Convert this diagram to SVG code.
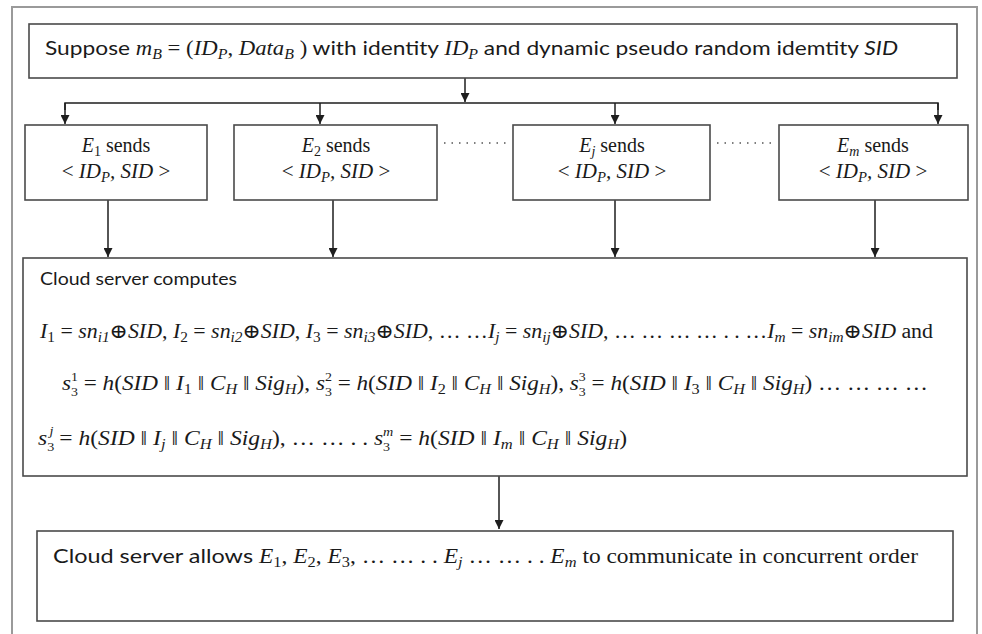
<svg xmlns="http://www.w3.org/2000/svg" width="982" height="634" viewBox="0 0 982 634">
  <style>
    .frame { fill: none; stroke: #9a9a9a; stroke-width: 2; }
    .box { fill: #ffffff; stroke: #4a4a4a; stroke-width: 1.6; }
    .wire { fill: none; stroke: #1e1e1e; stroke-width: 1.5; }
    .dots { fill: none; stroke: #555; stroke-width: 1.6; stroke-dasharray: 1.5 6; }
    .sans { font-family: "Lato", "Open Sans", "Liberation Sans", sans-serif; fill: #1a1a1a; }
    .serif { font-family: "Liberation Serif", "DejaVu Serif", serif; fill: #1a1a1a; }
    .it { font-style: italic; }
    .sb { font-size: 70%; }
    .ss { font-size: 60%; }
  </style>
  <defs>
    <marker id="arrow" viewBox="0 0 10 10" refX="10" refY="5" markerWidth="9" markerHeight="9" markerUnits="userSpaceOnUse" orient="auto">
      <path d="M0,0 L10,5 L0,10 z" fill="#1e1e1e"/>
    </marker>
  </defs>

  <rect width="982" height="634" fill="#ffffff"/>
  <rect class="frame" x="12" y="7" width="965" height="650"/>

  <!-- connectors -->
  <g id="connectors">
    <line class="wire" x1="465" y1="78" x2="465" y2="102" marker-end="url(#arrow)"/>
    <polyline class="wire" points="65,110 65,103 938,103 938,110"/>
    <line class="wire" x1="65" y1="103" x2="65" y2="124" marker-end="url(#arrow)"/>
    <line class="wire" x1="320" y1="103" x2="320" y2="124" marker-end="url(#arrow)"/>
    <line class="wire" x1="615" y1="103" x2="615" y2="124" marker-end="url(#arrow)"/>
    <line class="wire" x1="938" y1="103" x2="938" y2="124" marker-end="url(#arrow)"/>
    <line class="wire" x1="108" y1="200" x2="108" y2="257" marker-end="url(#arrow)"/>
    <line class="wire" x1="333" y1="200" x2="333" y2="257" marker-end="url(#arrow)"/>
    <line class="wire" x1="615" y1="200" x2="615" y2="257" marker-end="url(#arrow)"/>
    <line class="wire" x1="875" y1="200" x2="875" y2="257" marker-end="url(#arrow)"/>
    <line class="wire" x1="499" y1="476" x2="499" y2="529" marker-end="url(#arrow)"/>
    <line class="dots" x1="444" y1="143" x2="510" y2="143"/>
    <line class="dots" x1="717" y1="143" x2="777" y2="143"/>
  </g>

  <!-- premise -->
  <g id="premise">
    <rect class="box" x="29" y="24" width="928" height="54"/>
    <text x="45" y="55" font-size="20" textLength="853" lengthAdjust="spacingAndGlyphs"><tspan class="sans">Suppose </tspan><tspan class="serif it">m</tspan><tspan class="serif it sb" dy="4">B</tspan><tspan class="serif" dy="-4"> = (</tspan><tspan class="serif it">ID</tspan><tspan class="serif it sb" dy="4">P</tspan><tspan class="serif" dy="-4">, </tspan><tspan class="serif it">Data</tspan><tspan class="serif it sb" dy="4">B</tspan><tspan class="serif" dy="-4"> )</tspan><tspan class="sans"> with identity </tspan><tspan class="serif it">ID</tspan><tspan class="serif it sb" dy="4">P</tspan><tspan class="sans" dy="-4"> and dynamic pseudo random idemtity </tspan><tspan class="sans it">SID</tspan></text>
  </g>

  <!-- entities -->
  <g id="entity-1">
    <rect class="box" x="25" y="125" width="182" height="75"/>
    <text class="serif" x="116" y="152" font-size="20" text-anchor="middle"><tspan class="it">E</tspan><tspan class="sb" dy="4">1</tspan><tspan dy="-4"> sends</tspan></text>
    <text class="serif" x="116" y="178" font-size="21" text-anchor="middle">&lt; <tspan class="it">ID</tspan><tspan class="it sb" dy="4">P</tspan><tspan class="it" dy="-4">, SID</tspan> &gt;</text>
  </g>
  <g id="entity-2">
    <rect class="box" x="234" y="125" width="203" height="75"/>
    <text class="serif" x="336" y="152" font-size="20" text-anchor="middle"><tspan class="it">E</tspan><tspan class="sb" dy="4">2</tspan><tspan dy="-4"> sends</tspan></text>
    <text class="serif" x="336" y="178" font-size="21" text-anchor="middle">&lt; <tspan class="it">ID</tspan><tspan class="it sb" dy="4">P</tspan><tspan class="it" dy="-4">, SID</tspan> &gt;</text>
  </g>
  <g id="entity-j">
    <rect class="box" x="513" y="125" width="197" height="75"/>
    <text class="serif" x="612" y="152" font-size="20" text-anchor="middle"><tspan class="it">E</tspan><tspan class="it sb" dy="4">j</tspan><tspan dy="-4"> sends</tspan></text>
    <text class="serif" x="612" y="178" font-size="21" text-anchor="middle">&lt; <tspan class="it">ID</tspan><tspan class="it sb" dy="4">P</tspan><tspan class="it" dy="-4">, SID</tspan> &gt;</text>
  </g>
  <g id="entity-m">
    <rect class="box" x="779" y="125" width="189" height="75"/>
    <text class="serif" x="873" y="152" font-size="20" text-anchor="middle"><tspan class="it">E</tspan><tspan class="it sb" dy="4">m</tspan><tspan dy="-4"> sends</tspan></text>
    <text class="serif" x="873" y="178" font-size="21" text-anchor="middle">&lt; <tspan class="it">ID</tspan><tspan class="it sb" dy="4">P</tspan><tspan class="it" dy="-4">, SID</tspan> &gt;</text>
  </g>

  <!-- cloud server computation -->
  <g id="cloud-server">
    <rect class="box" x="23" y="258" width="944" height="218"/>
    <text class="sans" x="40" y="285" font-size="17" textLength="197" lengthAdjust="spacingAndGlyphs">Cloud server computes</text>
    <text class="serif" x="40" y="338" font-size="20" textLength="893" lengthAdjust="spacingAndGlyphs"><tspan class="it">I</tspan><tspan class="sb" dy="4">1</tspan><tspan dy="-4"> = </tspan><tspan class="it">sn</tspan><tspan class="it sb" dy="4">i1</tspan><tspan dy="-4">⊕</tspan><tspan class="it">SID</tspan>, <tspan class="it">I</tspan><tspan class="sb" dy="4">2</tspan><tspan dy="-4"> = </tspan><tspan class="it">sn</tspan><tspan class="it sb" dy="4">i2</tspan><tspan dy="-4">⊕</tspan><tspan class="it">SID</tspan>, <tspan class="it">I</tspan><tspan class="sb" dy="4">3</tspan><tspan dy="-4"> = </tspan><tspan class="it">sn</tspan><tspan class="it sb" dy="4">i3</tspan><tspan dy="-4">⊕</tspan><tspan class="it">SID</tspan>, … …<tspan class="it">I</tspan><tspan class="it sb" dy="4">j</tspan><tspan dy="-4"> = </tspan><tspan class="it">sn</tspan><tspan class="it sb" dy="4">ij</tspan><tspan dy="-4">⊕</tspan><tspan class="it">SID</tspan>, … … … … . . …<tspan class="it">I</tspan><tspan class="it sb" dy="4">m</tspan><tspan dy="-4"> = </tspan><tspan class="it">sn</tspan><tspan class="it sb" dy="4">im</tspan><tspan dy="-4">⊕</tspan><tspan class="it">SID</tspan>  and</text>
    <text class="serif" x="62" y="390" font-size="20" textLength="866" lengthAdjust="spacingAndGlyphs"><tspan class="it">s</tspan><tspan class="ss" dy="6">3</tspan><tspan class="ss" dx="-6" dy="-15">1</tspan><tspan dy="9"> = </tspan><tspan class="it">h</tspan>(<tspan class="it">SID</tspan> ‖ <tspan class="it">I</tspan><tspan class="sb" dy="4">1</tspan><tspan dy="-4"> ‖ </tspan><tspan class="it">C</tspan><tspan class="it sb" dy="4">H</tspan><tspan dy="-4"> ‖ </tspan><tspan class="it">Sig</tspan><tspan class="it sb" dy="4">H</tspan><tspan dy="-4">), </tspan><tspan class="it">s</tspan><tspan class="ss" dy="6">3</tspan><tspan class="ss" dx="-6" dy="-15">2</tspan><tspan dy="9"> = </tspan><tspan class="it">h</tspan>(<tspan class="it">SID</tspan> ‖ <tspan class="it">I</tspan><tspan class="sb" dy="4">2</tspan><tspan dy="-4"> ‖ </tspan><tspan class="it">C</tspan><tspan class="it sb" dy="4">H</tspan><tspan dy="-4"> ‖ </tspan><tspan class="it">Sig</tspan><tspan class="it sb" dy="4">H</tspan><tspan dy="-4">), </tspan><tspan class="it">s</tspan><tspan class="ss" dy="6">3</tspan><tspan class="ss" dx="-6" dy="-15">3</tspan><tspan dy="9"> = </tspan><tspan class="it">h</tspan>(<tspan class="it">SID</tspan> ‖ <tspan class="it">I</tspan><tspan class="sb" dy="4">3</tspan><tspan dy="-4"> ‖ </tspan><tspan class="it">C</tspan><tspan class="it sb" dy="4">H</tspan><tspan dy="-4"> ‖ </tspan><tspan class="it">Sig</tspan><tspan class="it sb" dy="4">H</tspan><tspan dy="-4">) … … … …</tspan></text>
    <text class="serif" x="38" y="445" font-size="20" textLength="589" lengthAdjust="spacingAndGlyphs"><tspan class="it">s</tspan><tspan class="ss" dy="6">3</tspan><tspan class="it ss" dx="-4" dy="-16">j</tspan><tspan dy="10"> = </tspan><tspan class="it">h</tspan>(<tspan class="it">SID</tspan> ‖ <tspan class="it">I</tspan><tspan class="it sb" dy="4">j</tspan><tspan dy="-4"> ‖ </tspan><tspan class="it">C</tspan><tspan class="it sb" dy="4">H</tspan><tspan dy="-4"> ‖ </tspan><tspan class="it">Sig</tspan><tspan class="it sb" dy="4">H</tspan><tspan dy="-4">), … … . . </tspan><tspan class="it">s</tspan><tspan class="ss" dy="6">3</tspan><tspan class="it ss" dx="-6" dy="-15">m</tspan><tspan dy="9"> = </tspan><tspan class="it">h</tspan>(<tspan class="it">SID</tspan> ‖ <tspan class="it">I</tspan><tspan class="it sb" dy="4">m</tspan><tspan dy="-4"> ‖ </tspan><tspan class="it">C</tspan><tspan class="it sb" dy="4">H</tspan><tspan dy="-4"> ‖ </tspan><tspan class="it">Sig</tspan><tspan class="it sb" dy="4">H</tspan><tspan dy="-4">)</tspan></text>
  </g>

  <!-- outcome -->
  <g id="outcome">
    <rect class="box" x="37" y="531" width="916" height="90"/>
    <text x="53" y="563" font-size="20" textLength="865" lengthAdjust="spacingAndGlyphs"><tspan class="sans">Cloud server allows </tspan><tspan class="serif it">E</tspan><tspan class="serif sb" dy="4">1</tspan><tspan class="serif" dy="-4">, </tspan><tspan class="serif it">E</tspan><tspan class="serif sb" dy="4">2</tspan><tspan class="serif" dy="-4">,  </tspan><tspan class="serif it">E</tspan><tspan class="serif sb" dy="4">3</tspan><tspan class="serif" dy="-4">, … … . . </tspan><tspan class="serif it">E</tspan><tspan class="serif it sb" dy="4">j</tspan><tspan class="serif" dy="-4"> … … . . </tspan><tspan class="serif it">E</tspan><tspan class="serif it sb" dy="4">m</tspan><tspan class="serif" dy="-4"> to communicate in concurrent order</tspan></text>
  </g>
</svg>
